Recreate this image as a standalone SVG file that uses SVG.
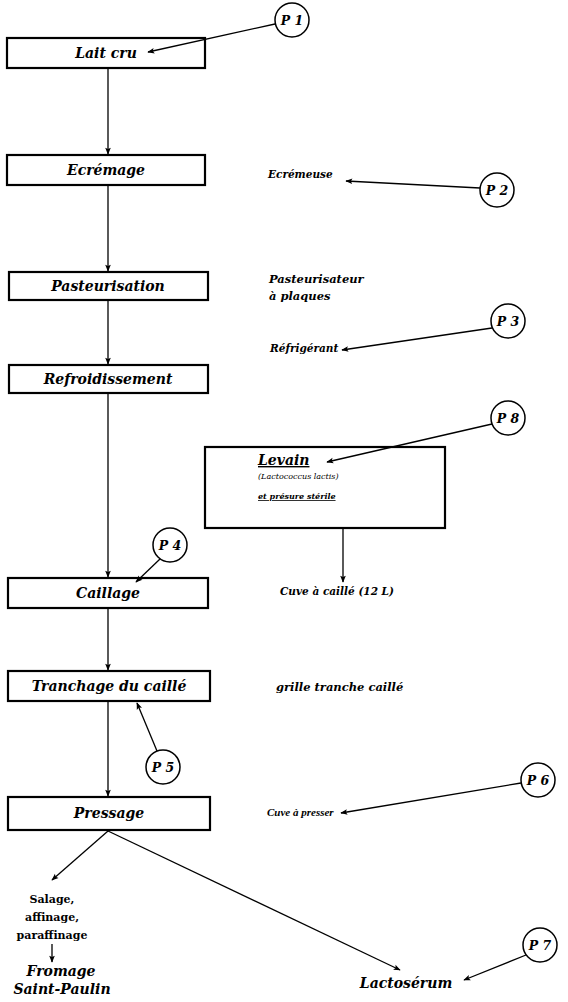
<svg xmlns="http://www.w3.org/2000/svg" width="568" height="1002" viewBox="0 0 568 1002">
<style>
.box{fill:#fff;stroke:#000;stroke-width:2.2}
.bt{font-family:"DejaVu Serif",serif;font-weight:bold;font-style:italic;font-size:14px;text-anchor:middle;fill:#000}
.lb{font-family:"DejaVu Serif",serif;font-weight:bold;font-style:italic;font-size:10.5px;fill:#000}
.sm{font-family:"DejaVu Serif",serif;font-style:italic;font-size:8px;fill:#000}
.pc{fill:#fff;stroke:#000;stroke-width:1.5}
.pt{font-family:"DejaVu Serif",serif;font-weight:bold;font-style:italic;font-size:12.5px;text-anchor:middle;fill:#000}
.rg{font-family:"DejaVu Serif",serif;font-weight:bold;font-size:11px;text-anchor:middle;fill:#000}
.ln{fill:none;stroke:#000;stroke-width:1.3;marker-end:url(#ah)}
</style>
<defs>
<marker id="ah" viewBox="0 0 10 10" refX="9" refY="5" markerWidth="8" markerHeight="7" markerUnits="userSpaceOnUse" orient="auto">
<path d="M0,1 L10,5 L0,9 L2,5 z" fill="#000"/>
</marker>
</defs>
<rect width="568" height="1002" fill="#fff"/>
<g id="n-laitcru"><rect class="box" x="7" y="38" width="198" height="30"/><text class="bt" x="106" y="58">Lait cru</text></g>
<g id="n-ecremage"><rect class="box" x="7" y="155" width="198" height="30"/><text class="bt" x="106" y="175">Ecrémage</text></g>
<g id="n-pasteurisation"><rect class="box" x="9" y="272" width="199" height="28"/><text class="bt" x="108" y="291">Pasteurisation</text></g>
<g id="n-refroidissement"><rect class="box" x="9" y="365" width="199" height="28"/><text class="bt" x="108" y="384">Refroidissement</text></g>
<g id="n-caillage"><rect class="box" x="8" y="578" width="200" height="30"/><text class="bt" x="108" y="598">Caillage</text></g>
<g id="n-tranchage"><rect class="box" x="8" y="671" width="202" height="30"/><text class="bt" x="109" y="691">Tranchage du caillé</text></g>
<g id="n-pressage"><rect class="box" x="8" y="797" width="202" height="33"/><text class="bt" x="109" y="818">Pressage</text></g>
<g id="n-levain"><rect class="box" x="205" y="447" width="240" height="81"/>
<text class="lb" x="258" y="465" style="font-size:14px;text-decoration:underline">Levain</text>
<text class="sm" x="258" y="479">(Lactococcus lactis)</text>
<text class="sm" x="258" y="499" style="font-weight:bold;text-decoration:underline">et présure stérile</text></g>
<g id="n-ecremeuse"><text class="lb" x="268" y="178">Ecrémeuse</text></g>
<g id="n-pasteurisateur"><text class="lb" x="269" y="283" style="font-size:11.5px">Pasteurisateur</text><text class="lb" x="269" y="300" style="font-size:11.5px">à plaques</text></g>
<g id="n-refrigerant"><text class="lb" x="270" y="352">Réfrigérant</text></g>
<g id="n-cuvecaille"><text class="lb" x="280" y="595">Cuve à caillé (12 L)</text></g>
<g id="n-grille"><text class="lb" x="276" y="691" style="font-size:11.5px">grille tranche caillé</text></g>
<g id="n-cuvepresser"><text class="lb" x="267" y="816" style="font-family:'Liberation Serif',serif;font-size:11px">Cuve à presser</text></g>
<g id="n-salage"><text class="rg" x="52" y="903">Salage,</text><text class="rg" x="52" y="921">affinage,</text><text class="rg" x="52" y="939">paraffinage</text></g>
<g id="n-fromage"><text class="bt" x="61" y="976">Fromage</text><text class="bt" x="62" y="994">Saint-Paulin</text></g>
<g id="n-lactoserum"><text class="bt" x="406" y="988">Lactosérum</text></g>
<g id="p1"><circle class="pc" cx="292" cy="20" r="17"/><text class="pt" x="292" y="25">P 1</text></g>
<g id="p2"><circle class="pc" cx="497" cy="190" r="17"/><text class="pt" x="497" y="195">P 2</text></g>
<g id="p3"><circle class="pc" cx="508" cy="321" r="17"/><text class="pt" x="508" y="326">P 3</text></g>
<g id="p8"><circle class="pc" cx="508" cy="418" r="17"/><text class="pt" x="508" y="423">P 8</text></g>
<g id="p4"><circle class="pc" cx="170" cy="545" r="17"/><text class="pt" x="170" y="550">P 4</text></g>
<g id="p5"><circle class="pc" cx="163" cy="767" r="17"/><text class="pt" x="163" y="772">P 5</text></g>
<g id="p6"><circle class="pc" cx="538" cy="780" r="17"/><text class="pt" x="538" y="785">P 6</text></g>
<g id="p7"><circle class="pc" cx="540" cy="945" r="17"/><text class="pt" x="540" y="950">P 7</text></g>
<g id="connectors">
<line class="ln" x1="108" y1="69" x2="108" y2="154"/>
<line class="ln" x1="108" y1="186" x2="108" y2="271"/>
<line class="ln" x1="108" y1="301" x2="108" y2="364"/>
<line class="ln" x1="108" y1="394" x2="108" y2="577"/>
<line class="ln" x1="108" y1="609" x2="108" y2="670"/>
<line class="ln" x1="108" y1="702" x2="108" y2="796"/>
<line class="ln" x1="343" y1="529" x2="343" y2="582"/>
<line class="ln" x1="108" y1="831" x2="52" y2="880"/>
<line class="ln" x1="108" y1="831" x2="400" y2="970"/>
<line class="ln" x1="52" y1="944" x2="52" y2="962"/>
<line class="ln" x1="275" y1="24" x2="148" y2="52"/>
<line class="ln" x1="480" y1="188" x2="346" y2="181"/>
<line class="ln" x1="492" y1="328" x2="342" y2="350"/>
<line class="ln" x1="492" y1="424" x2="327" y2="462"/>
<line class="ln" x1="160" y1="559" x2="136" y2="582"/>
<line class="ln" x1="157" y1="751" x2="137" y2="703"/>
<line class="ln" x1="521" y1="783" x2="341" y2="813"/>
<line class="ln" x1="526" y1="955" x2="464" y2="980"/>
</g>
</svg>
